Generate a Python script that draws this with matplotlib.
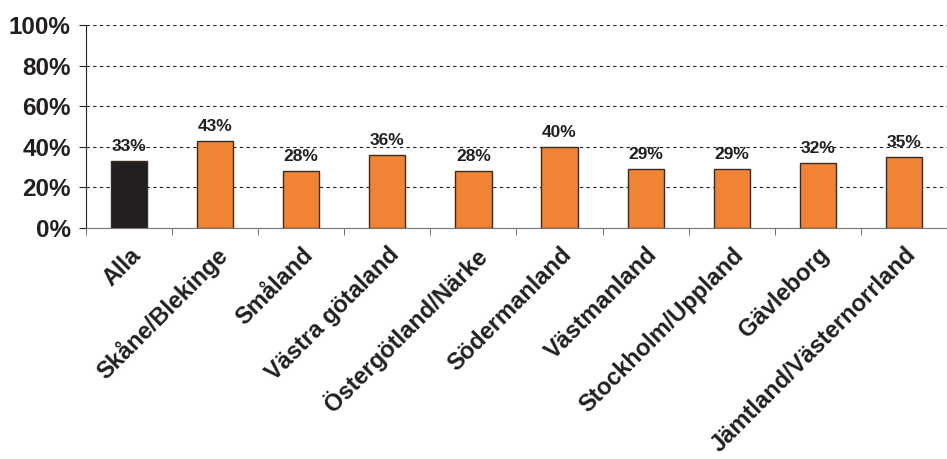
import numpy as np
import matplotlib.pyplot as plt

plt.rcParams['font.family'] = ['Liberation Sans', 'DejaVu Sans']

regions = ['Alla', 'Skåne/Blekinge', 'Småland', 'Västra götaland', 'Östergötland/Närke',
           'Södermanland', 'Västmanland', 'Stockholm/Uppland', 'Gävleborg',
           'Jämtland/Västernorrland']
values = [33, 43, 28, 36, 28, 40, 29, 29, 32, 35]
colors = ['#231f20'] + ['#f08434'] * 9

fig = plt.figure(figsize=(9.47, 4.59), dpi=100)
ax = fig.add_axes([0.0908, 0.5033, 0.9092, 0.4422])

x = np.arange(len(values))
bars = ax.bar(x, values, width=0.42, color=colors, edgecolor='#3a2a20', linewidth=1.0, zorder=3)

for bar, v in zip(bars, values):
    ax.annotate(f'{v}%', (bar.get_x() + bar.get_width() / 2, v), xytext=(0, 5),
                textcoords='offset points', ha='center', va='bottom',
                fontsize=12.5, fontweight='bold', color='#231f20', zorder=4)

ax.set_ylim(0, 100)
ax.set_xlim(-0.5, 9.43)
ax.set_yticks(range(0, 101, 20))
ax.set_yticklabels([f'{t}%' for t in range(0, 101, 20)], fontsize=17.5, fontweight='bold', color='#231f20')
ax.yaxis.grid(True, linestyle=(0, (3, 3)), color='#231f20', linewidth=0.8, zorder=0)
ax.set_axisbelow(True)

ax.set_xticks(x)
ax.set_xticklabels(regions, rotation=45, ha='right', rotation_mode='anchor',
                   fontsize=17, fontweight='bold', color='#231f20')
ax.tick_params(axis='x', which='major', length=0, pad=11)
ax.set_xticks(np.arange(-0.5, 10, 1), minor=True)
ax.tick_params(axis='x', which='minor', length=5, color='#555555', direction='out')
ax.tick_params(axis='y', length=5, direction='out', color='#231f20', pad=6)

ax.spines['top'].set_visible(False)
ax.spines['right'].set_visible(False)
ax.spines['left'].set_color('#231f20')
ax.spines['bottom'].set_color('#777777')

fig.savefig('out.png', dpi=100)
